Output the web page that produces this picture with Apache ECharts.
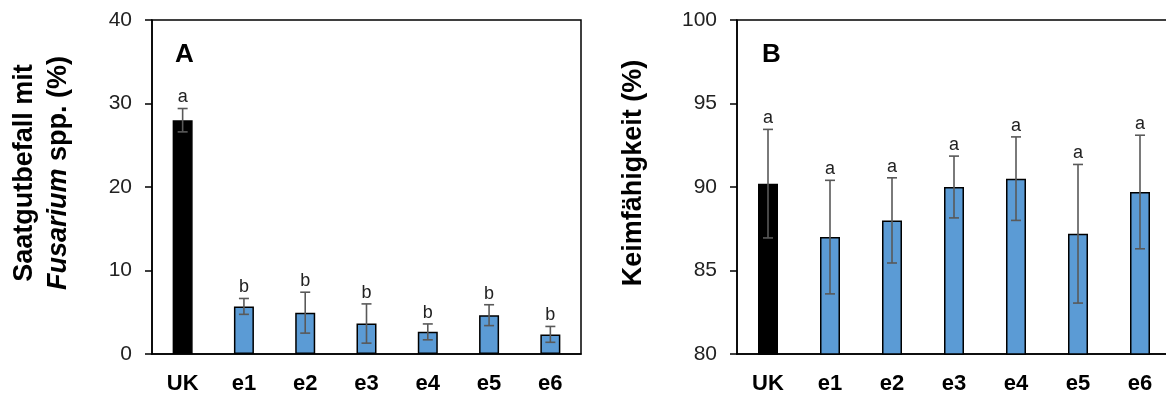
<!DOCTYPE html>
<html>
<head>
<meta charset="utf-8">
<script src="https://cdn.jsdelivr.net/npm/echarts@6/dist/echarts.min.js"></script>
<style>
  html, body { margin: 0; padding: 0; background: #fff; }
  #chart { width: 1166px; height: 394px; }
</style>
</head>
<body>
<div id="chart"></div>
<script>
// data
var categories = ['UK', 'e1', 'e2', 'e3', 'e4', 'e5', 'e6'];
var befallMean = [28.0, 5.7, 4.95, 3.65, 2.65, 4.65, 2.35];
var befallErr = [1.4, 0.95, 2.45, 2.35, 0.95, 1.25, 0.95];
var befallLetters = ['a', 'b', 'b', 'b', 'b', 'b', 'b'];
var keimMean = [90.2, 87.0, 88.0, 90.0, 90.5, 87.2, 89.7];
var keimErr = [3.25, 3.4, 2.55, 1.85, 2.5, 4.15, 3.4];
var keimLetters = ['a', 'a', 'a', 'a', 'a', 'a', 'a'];
var befallTicks = [0, 40, 10];
var keimTicks = [80, 100, 5];

var FONT = '"Liberation Sans", Arial, sans-serif';
var BLUE = '#5B9BD5';

function barData(vals) {
  return vals.map(function (v, i) {
    return {
      value: v,
      itemStyle: { color: i === 0 ? '#000' : BLUE }
    };
  });
}

function errData(mean, err, letters) {
  return mean.map(function (m, i) {
    return [i, m - err[i], m + err[i], letters[i]];
  });
}

function renderErr(params, api) {
  var lo = api.coord([api.value(0), api.value(1)]);
  var hi = api.coord([api.value(0), api.value(2)]);
  var x = lo[0], cap = 5;
  var st = { stroke: '#595959', lineWidth: 1.6 };
  return {
    type: 'group',
    children: [
      { type: 'line', shape: { x1: x, y1: lo[1], x2: x, y2: hi[1] }, style: st },
      { type: 'line', shape: { x1: x - cap, y1: lo[1], x2: x + cap, y2: lo[1] }, style: st },
      { type: 'line', shape: { x1: x - cap, y1: hi[1], x2: x + cap, y2: hi[1] }, style: st },
      {
        type: 'text',
        style: {
          x: x, y: hi[1] - 2, text: api.value(3),
          textAlign: 'center', textVerticalAlign: 'bottom',
          font: '18px ' + FONT, fill: '#222'
        }
      }
    ]
  };
}

function valueAxis(idx, ticks) {
  return {
    type: 'value', gridIndex: idx,
    min: ticks[0], max: ticks[1], interval: ticks[2],
    splitLine: { show: false },
    axisLine: { show: true, lineStyle: { color: '#000', width: 1.5 } },
    axisTick: { show: true, length: 7, lineStyle: { color: '#000', width: 1.5 } },
    axisLabel: { color: '#222', fontSize: 21, fontFamily: FONT, margin: 20 }
  };
}

function catAxis(idx) {
  return {
    type: 'category', gridIndex: idx, data: categories,
    axisLine: { show: true, lineStyle: { color: '#000', width: 1.5 } },
    axisTick: { show: false },
    axisLabel: { color: '#000', fontSize: 22, fontWeight: 'bold', fontFamily: FONT, margin: 19 }
  };
}

var titleRich = {
  b: { fontFamily: FONT, fontSize: 27, fontWeight: 'bold', fill: '#000', lineHeight: 34 },
  i: { fontFamily: FONT, fontSize: 27, fontWeight: 'bold', fontStyle: 'italic', fill: '#000', lineHeight: 34 }
};

var chart = echarts.init(document.getElementById('chart'), null, { renderer: 'canvas' });
chart.setOption({
  animation: false,
  backgroundColor: '#fff',
  title: [
    { text: 'A', left: 170, top: 37, textStyle: { fontSize: 26, fontWeight: 'bold', fontFamily: FONT, color: '#000' } },
    { text: 'B', left: 757, top: 37, textStyle: { fontSize: 26, fontWeight: 'bold', fontFamily: FONT, color: '#000' } }
  ],
  graphic: [
    {
      type: 'text', x: 42, y: 173, rotation: Math.PI / 2,
      style: {
        text: '{b|Saatgutbefall mit}\n{i|Fusarium}{b| spp. (%)}',
        rich: titleRich, align: 'center', verticalAlign: 'middle'
      }
    },
    {
      type: 'text', x: 634, y: 173, rotation: Math.PI / 2,
      style: {
        text: '{b|Keimfähigkeit (%)}',
        rich: titleRich, align: 'center', verticalAlign: 'middle'
      }
    }
  ],
  grid: [
    { left: 152, top: 20, width: 429, height: 334, outerBoundsMode: 'none', show: true, borderColor: '#000', borderWidth: 1.5, backgroundColor: 'transparent' },
    { left: 737, top: 20, width: 434, height: 334, outerBoundsMode: 'none', show: true, borderColor: '#000', borderWidth: 1.5, backgroundColor: 'transparent' }
  ],
  xAxis: [catAxis(0), catAxis(1)],
  yAxis: [valueAxis(0, befallTicks), valueAxis(1, keimTicks)],
  series: [
    {
      type: 'bar', xAxisIndex: 0, yAxisIndex: 0, data: barData(befallMean),
      barWidth: 20, itemStyle: { borderColor: '#000', borderWidth: 1.5 }
    },
    {
      type: 'custom', xAxisIndex: 0, yAxisIndex: 0,
      data: errData(befallMean, befallErr, befallLetters),
      renderItem: renderErr, z: 5
    },
    {
      type: 'bar', xAxisIndex: 1, yAxisIndex: 1, data: barData(keimMean),
      barWidth: 20, itemStyle: { borderColor: '#000', borderWidth: 1.5 }
    },
    {
      type: 'custom', xAxisIndex: 1, yAxisIndex: 1,
      data: errData(keimMean, keimErr, keimLetters),
      renderItem: renderErr, z: 5
    }
  ]
});
</script>
</body>
</html>
